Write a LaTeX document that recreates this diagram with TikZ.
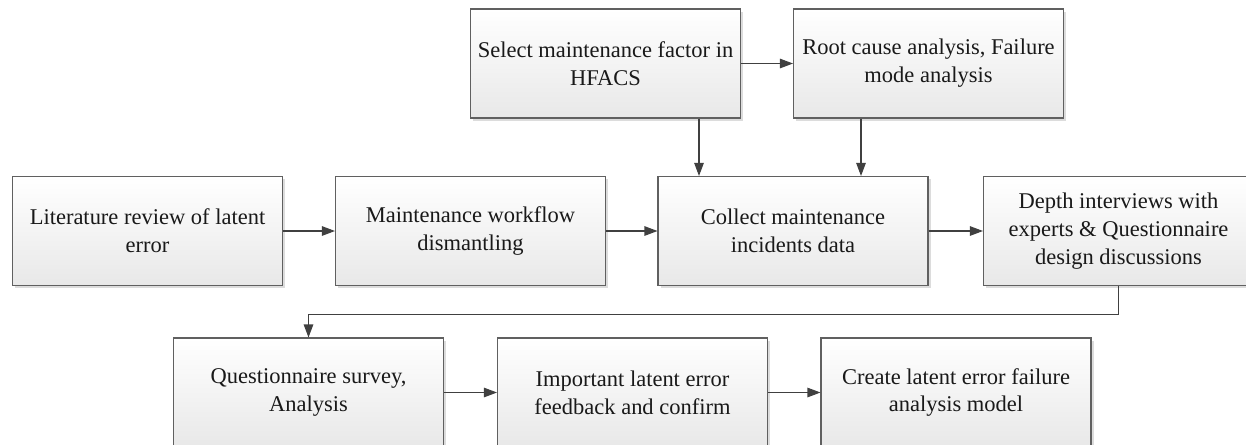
\documentclass[tikz,border=0pt]{standalone}
\usepackage{fontspec}
\setmainfont{Liberation Serif}
\usepackage{xcolor}
\usepackage{tikz}
\usetikzlibrary{arrows.meta,positioning,shadows,calc}
\definecolor{stepLine}{RGB}{96,96,96}
\definecolor{stepArrow}{RGB}{64,64,64}
\definecolor{stepShade}{RGB}{232,232,232}
\tikzset{
  stepbox/.style={rectangle, draw=stepLine, line width=0.6pt, top color=white, bottom color=stepShade,
    minimum width=5.4cm, minimum height=2.18cm, align=center, inner sep=3pt,
    font=\fontsize{12.8}{15.9}\selectfont, text=black!90,
    drop shadow={shadow xshift=0.05cm, shadow yshift=-0.05cm, fill=black!30, opacity=0.45}},
  flowarrow/.style={-{Triangle[length=2.6mm,width=1.9mm]}, draw=stepArrow, line width=0.6pt},
}
\begin{document}
\begin{tikzpicture}[x=1cm,y=1cm]
  \useasboundingbox (0,0) rectangle (24.92,-8.88);
  \clip (0,0) rectangle (24.92,-8.88);

  % --- HFACS row ---
  \node[stepbox] (hfacs) at (12.11,-1.27) {Select maintenance factor in\\HFACS};
  \node[stepbox] (rootcause) at (18.57,-1.27) {Root cause analysis, Failure\\mode analysis};

  % --- Data collection row ---
  \node[stepbox] (literature) at (2.95,-4.62) {Literature review of latent\\error};
  \node[stepbox] (workflow) at (9.41,-4.62) {Maintenance workflow\\dismantling};
  \node[stepbox] (incidents) at (15.86,-4.62) {Collect maintenance\\incidents data};
  \node[stepbox] (interviews) at (22.37,-4.62) {Depth interviews with\\experts \& Questionnaire\\design discussions};

  % --- Survey and model row ---
  \node[stepbox] (survey) at (6.17,-7.85) {Questionnaire survey,\\Analysis};
  \node[stepbox] (confirm) at (12.65,-7.85) {Important latent error\\feedback and confirm};
  \node[stepbox] (model) at (19.12,-7.85) {Create latent error failure\\analysis model};

  % --- Flow ---
  \coordinate (hfacsdown) at ([xshift=1.87cm]hfacs.south);
  \coordinate (rootdown) at ([xshift=-1.35cm]rootcause.south);
  \draw[flowarrow] (hfacs) -- (rootcause);
  \draw[flowarrow] (hfacsdown) -- (hfacsdown |- incidents.north);
  \draw[flowarrow] (rootdown) -- (rootdown |- incidents.north);
  \draw[flowarrow] (literature) -- (workflow);
  \draw[flowarrow] (workflow) -- (incidents);
  \draw[flowarrow] (incidents) -- (interviews);
  \draw[flowarrow] (interviews.south) -- ++(0,-0.56) -| (survey.north);
  \draw[flowarrow] (survey) -- (confirm);
  \draw[flowarrow] (confirm) -- (model);
\end{tikzpicture}
\end{document}
